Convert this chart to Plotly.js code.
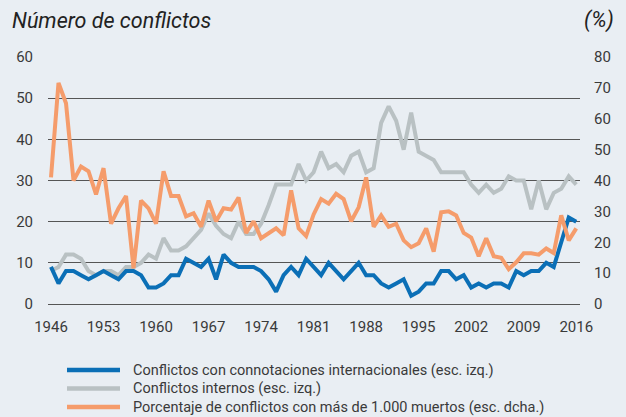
<!DOCTYPE html>
<html>
<head>
<meta charset="utf-8">
<script src="https://cdn.plot.ly/plotly-3.0.1.min.js"></script>
<style>
  html, body { margin: 0; padding: 0; background: #e9eef3; }
  #chart { width: 626px; height: 417px; }
</style>
</head>
<body>
<div id="chart"></div>
<script>
// Years 1946–2016
const years = [];
for (let y = 1946; y <= 2016; y++) years.push(y);

const tickYears = [1946, 1953, 1960, 1967, 1974, 1981, 1988, 1995, 2002, 2009, 2016];

// Conflictos con connotaciones internacionales (esc. izq.)
const internacionales = [
  9, 5, 8, 8, 7, 6, 7, 8, 7, 6,          // 1946-1955
  8, 8, 7, 4, 4, 5, 7, 7, 11, 10,        // 1956-1965
  9, 11, 6, 12, 10, 9, 9, 9, 8, 6,       // 1966-1975
  3, 7, 9, 7, 11, 9, 7, 10, 8, 6,        // 1976-1985
  8, 10, 7, 7, 5, 4, 5, 6, 2, 3,         // 1986-1995
  5, 5, 8, 8, 6, 7, 4, 5, 4, 5,          // 1996-2005
  5, 4, 8, 7, 8, 8, 10, 9, 15, 21,       // 2006-2015
  20                                      // 2016
];

// Conflictos internos (esc. izq.)
const internos = [
  8, 9, 12, 12, 11, 8, 7, 8, 8, 7,       // 1946-1955
  9, 9, 10, 12, 11, 16, 13, 13, 14, 16,  // 1956-1965
  18, 22, 19, 17, 16, 20, 17, 17, 19.5, 24, // 1966-1975
  29, 29, 29, 34, 30, 32, 37, 33, 34, 32, // 1976-1985
  36, 37, 32, 33, 44, 48, 44.5, 37.5, 46.5, 37, // 1986-1995
  36, 35, 32, 32, 32, 32, 29, 27, 29, 27, // 1996-2005
  28, 31, 30, 30, 23, 30, 23, 27, 28, 31, // 2006-2015
  29                                      // 2016
];

// Porcentaje de conflictos con más de 1.000 muertos (esc. dcha.)
const porcentaje = [
  41, 71.6, 65, 40, 44.5, 43, 35.5, 44, 26, 31,        // 1946-1955
  35, 11.6, 33.5, 31, 26, 43, 35, 35, 28.4, 29.4,      // 1956-1965
  25, 33.5, 26.8, 31, 30.6, 34.5, 23, 26.8, 21.3, 23,  // 1966-1975
  24.5, 22.3, 36.8, 24.5, 22, 29, 34, 32.5, 35.7, 34,  // 1976-1985
  26.8, 31.3, 41, 25, 28.7, 25, 26, 20.6, 18.4, 19.7,  // 1986-1995
  24.5, 17, 29.7, 30, 28.7, 23, 21.5, 15.5, 21.3, 15.5, // 1996-2005
  15, 11.3, 13.5, 16.4, 16.4, 16, 18, 16.5, 28.7, 20.6, // 2006-2015
  24.5                                                  // 2016
];

const seriesNames = [
  'Conflictos con connotaciones internacionales (esc. izq.)',
  'Conflictos internos (esc. izq.)',
  'Porcentaje de conflictos con más de 1.000 muertos (esc. dcha.)'
];
const seriesColors = ['#0b6fb6', '#b9c1c3', '#f59c6b'];

const FONT = 'Roboto, "Noto Sans", sans-serif';
const TXT = '#3a3a3a';
const W = 626, H = 417;
// plot area in pixels (for converting positions of legend/title text to paper coords)
const PL = 48, PR = 580, PT = 57, PB = 304;
const px2x = px => (px - PL) / (PR - PL);
const py2y = py => (PB - py) / (PB - PT);

const traces = [
  {
    x: years, y: internos, name: seriesNames[1], type: 'scatter', mode: 'lines',
    line: { color: seriesColors[1], width: 4 }, yaxis: 'y', showlegend: false
  },
  {
    x: years, y: internacionales, name: seriesNames[0], type: 'scatter', mode: 'lines',
    line: { color: seriesColors[0], width: 4 }, yaxis: 'y', showlegend: false
  },
  {
    x: years, y: porcentaje, name: seriesNames[2], type: 'scatter', mode: 'lines',
    line: { color: seriesColors[2], width: 4 }, yaxis: 'y2', showlegend: false
  }
];

// Custom legend (line sample + label), rows from top
const legendRowsY = [370, 388.5, 407];
const shapes = [];
const annotations = [];
seriesNames.forEach((name, i) => {
  shapes.push({
    type: 'line', xref: 'paper', yref: 'paper',
    x0: px2x(67), x1: px2x(120),
    y0: py2y(legendRowsY[i]), y1: py2y(legendRowsY[i]),
    line: { color: seriesColors[i], width: 4.5 }
  });
  annotations.push({
    text: name, xref: 'paper', yref: 'paper',
    x: px2x(131), xanchor: 'left', y: py2y(legendRowsY[i]), yanchor: 'middle',
    showarrow: false, font: { family: FONT, size: 14.5, color: TXT }
  });
});
annotations.push({
  text: '(%)', xref: 'paper', yref: 'paper',
  x: px2x(616), xanchor: 'right', y: py2y(20), yanchor: 'middle',
  showarrow: false, font: { family: FONT, size: 21.5, style: 'italic', color: '#222' }
});

const layout = {
  width: W, height: H,
  paper_bgcolor: '#e9eef3', plot_bgcolor: '#e9eef3',
  margin: { l: PL, r: W - PR, t: PT, b: H - PB, pad: 0, autoexpand: false },
  font: { family: FONT, color: TXT, size: 15 },
  title: {
    text: 'Número de conflictos',
    x: 12 / W, xanchor: 'left', xref: 'container',
    y: 1 - 20 / H, yanchor: 'middle', yref: 'container',
    font: { family: FONT, size: 21.5, style: 'italic', color: '#222' }
  },
  xaxis: {
    range: [1945.6, 2016.5],
    tickvals: tickYears, ticktext: tickYears.map(String),
    showgrid: false, zeroline: false, showline: false, ticks: '',
    tickfont: { size: 15, color: TXT }, ticklabelstandoff: 12, automargin: false
  },
  yaxis: {
    range: [0, 60], dtick: 10, tick0: 0,
    showgrid: true, gridcolor: '#555', gridwidth: 1,
    zeroline: true, zerolinecolor: '#555', zerolinewidth: 1,
    showline: false, ticks: '', automargin: false,
    tickfont: { size: 15, color: TXT }, ticklabelstandoff: 14
  },
  yaxis2: {
    range: [0, 80], dtick: 10, tick0: 0, overlaying: 'y', side: 'right',
    showgrid: false, zeroline: false, showline: false, ticks: '', automargin: false,
    tickfont: { size: 15, color: TXT }, ticklabelstandoff: 13
  },
  showlegend: false,
  shapes: shapes,
  annotations: annotations
};

Plotly.newPlot('chart', traces, layout, { displayModeBar: false, staticPlot: true });
</script>
</body>
</html>
